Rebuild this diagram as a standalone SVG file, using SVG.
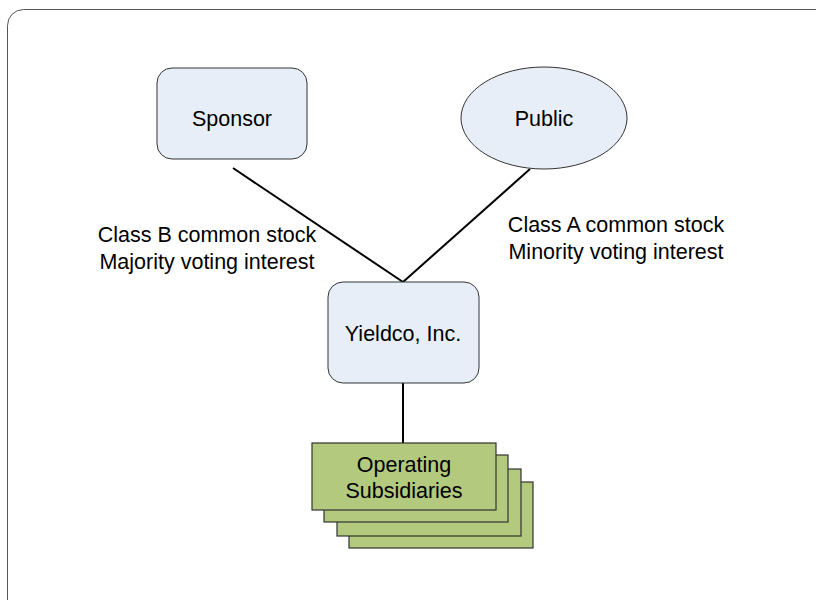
<svg xmlns="http://www.w3.org/2000/svg" width="816" height="600" viewBox="0 0 816 600">
<style>
text{font-family:"Liberation Sans",Arial,sans-serif;font-size:21.5px;fill:#000}
.n{fill:#e8eef7;stroke:#333;stroke-width:1}
.g{fill:#b3c97e;stroke:#333;stroke-width:1.2}
.c{stroke:#000;stroke-width:2;fill:none}
</style>
<rect x="7.5" y="9.5" width="830" height="620" rx="16" fill="#fff" stroke="#555" stroke-width="1"/>
<g id="connectors">
<line class="c" x1="233" y1="168" x2="403" y2="282"/>
<line class="c" x1="530" y1="169" x2="403" y2="282"/>
<line class="c" x1="403" y1="383" x2="403" y2="443"/>
</g>
<g id="sponsor">
<rect class="n" x="157" y="68" width="150" height="91" rx="15"/>
<text x="232" y="126" text-anchor="middle">Sponsor</text>
</g>
<g id="public">
<ellipse class="n" cx="544" cy="118" rx="83" ry="51"/>
<text x="544" y="126" text-anchor="middle">Public</text>
</g>
<g id="yieldco">
<rect class="n" x="328" y="282" width="151" height="101" rx="15"/>
<text x="403" y="341" text-anchor="middle">Yieldco, Inc.</text>
</g>
<g id="labelB">
<text x="207" y="242" text-anchor="middle">Class B common stock</text>
<text x="207" y="269" text-anchor="middle">Majority voting interest</text>
</g>
<g id="labelA">
<text x="616" y="232" text-anchor="middle">Class A common stock</text>
<text x="616" y="259" text-anchor="middle">Minority voting interest</text>
</g>
<g id="subsidiaries">
<rect class="g" x="349" y="482" width="184" height="66"/>
<rect class="g" x="337" y="469" width="184" height="67"/>
<rect class="g" x="324" y="455" width="184" height="67"/>
<rect class="g" x="312" y="443" width="184" height="67"/>
<text x="404" y="472" text-anchor="middle">Operating</text>
<text x="404" y="498" text-anchor="middle">Subsidiaries</text>
</g>
</svg>
